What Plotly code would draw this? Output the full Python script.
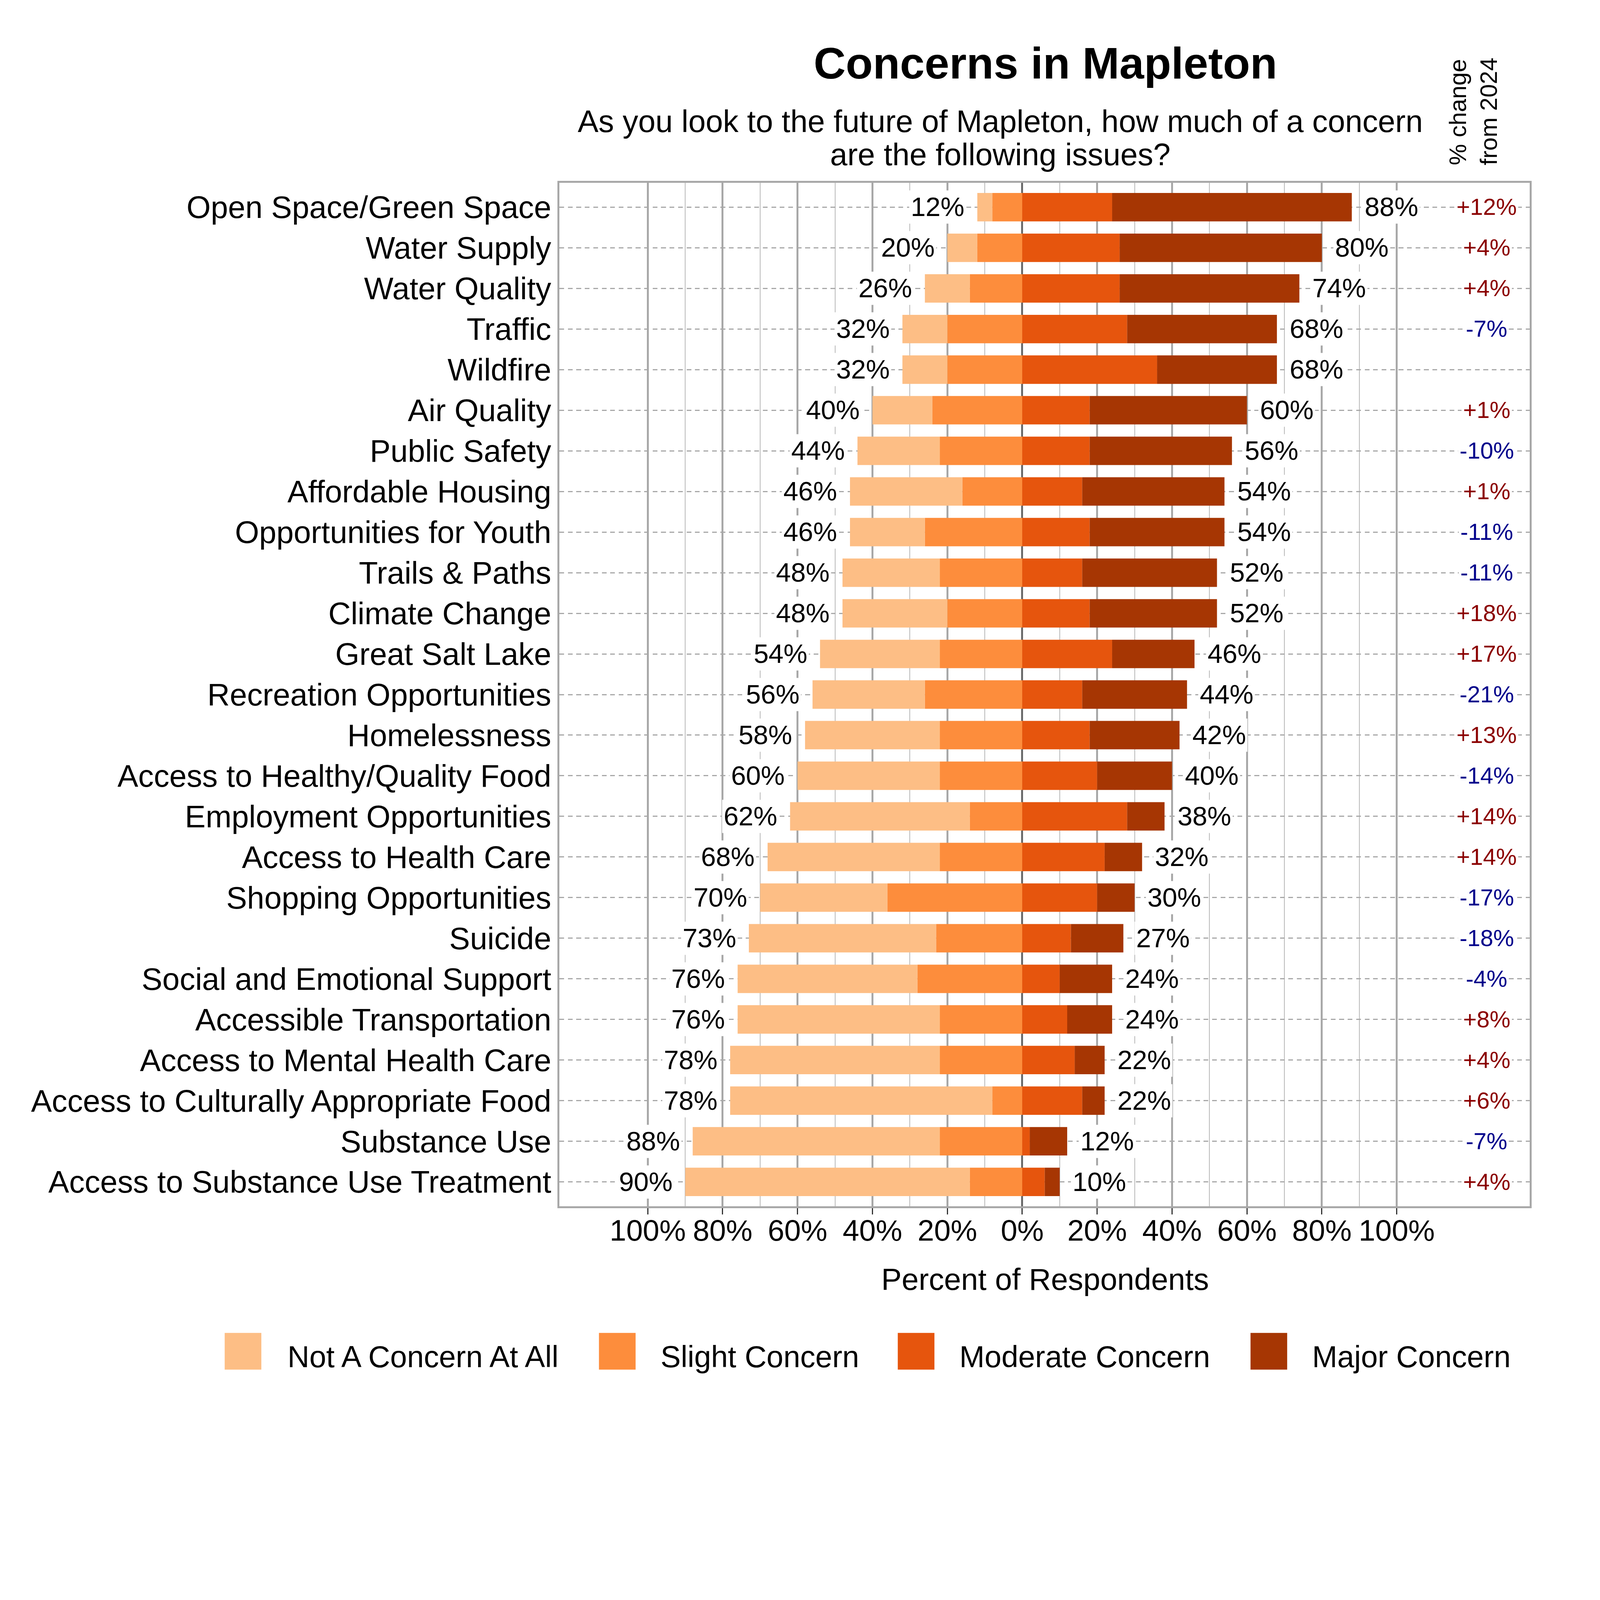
#!/usr/bin/env python3
#
# Usage: ./plot.py
# Diverging bar chart of resident concerns, written to out.html.
# The browser window turns out to be 4096 x 4096, so the 6000 x 5400 layout is
# measured in reference pixels and scaled down by K to fit.

import plotly.graph_objects as go


ISSUES = ['Open Space/Green Space', 'Water Supply', 'Water Quality', 'Traffic', 'Wildfire',
          'Air Quality', 'Public Safety', 'Affordable Housing', 'Opportunities for Youth',
          'Trails & Paths', 'Climate Change', 'Great Salt Lake', 'Recreation Opportunities',
          'Homelessness', 'Access to Healthy/Quality Food', 'Employment Opportunities',
          'Access to Health Care', 'Shopping Opportunities', 'Suicide',
          'Social and Emotional Support', 'Accessible Transportation',
          'Access to Mental Health Care', 'Access to Culturally Appropriate Food',
          'Substance Use', 'Access to Substance Use Treatment']
NOT_CONCERN = [4, 8, 12, 12, 12, 16, 22, 30, 20, 26, 28, 32, 30, 36, 38, 48, 46, 34, 50,
               48, 54, 56, 70, 66, 76]
SLIGHT = [8, 12, 14, 20, 20, 24, 22, 16, 26, 22, 20, 22, 26, 22, 22, 14, 22, 36, 23,
          28, 22, 22, 8, 22, 14]
MODERATE = [24, 26, 26, 28, 36, 18, 18, 16, 18, 16, 18, 24, 16, 18, 20, 28, 22, 20, 13,
            10, 12, 14, 16, 2, 6]
MAJOR = [64, 54, 48, 40, 32, 42, 38, 38, 36, 36, 34, 22, 28, 24, 20, 10, 10, 10, 14,
         14, 12, 8, 6, 10, 4]
CHANGE = [12, 4, 4, -7, None, 1, -10, 1, -11, -11, 18, 17, -21, 13, -14, 14, 14, -17, -18,
          -4, 8, 4, 6, -7, 4]
LEVELS = ['Not A Concern At All', 'Slight Concern', 'Moderate Concern', 'Major Concern']
X_TICKS = [-100, -80, -60, -40, -20, 0, 20, 40, 60, 80, 100]
X_MINOR = [-90, -70, -50, -30, -10, 10, 30, 50, 70, 90]

COLORS = ['#FDBE85', '#FD8D3C', '#E6550D', '#A63603']
FONT = 'Liberation Sans, Arial, sans-serif'
REF_W, REF_H = 6000, 5400
L, R, T, B = 2094, 253, 677, 870       # plot margins, reference px
K = 0.68                               # reference px -> page px


def s(v):
    return round(v * K, 1)


def main():
    fig = go.Figure()
    add_bars(fig)
    annotations = value_labels() + change_labels() + header_texts()
    shapes, legend_texts = legend()
    fig.update_layout(
        width=round(REF_W * K), height=round(REF_H * K),
        margin=dict(l=s(L), r=s(R), t=s(T), b=s(B), pad=0, autoexpand=False),
        barmode='relative', bargap=0.3,
        plot_bgcolor='white', paper_bgcolor='white',
        showlegend=False,
        font=dict(family=FONT, size=s(115), color='black'),
        annotations=annotations + legend_texts,
        shapes=shapes,
        xaxis=dict(
            range=[-123.6, 135.5],
            tickvals=X_TICKS, ticktext=[f'{abs(v)}%' for v in X_TICKS],
            tickfont=dict(size=s(112)),
            ticks='outside', ticklen=s(23), tickwidth=s(5), tickcolor='#333333',
            ticklabelstandoff=-24,
            showgrid=True, gridcolor='#A8A8A8', gridwidth=s(7),
            minor=dict(tickvals=X_MINOR, showgrid=True, gridcolor='#B8B8B8',
                       gridwidth=s(3), ticks=''),
            zeroline=True, zerolinecolor='#6A6A6A', zerolinewidth=s(7),
            showline=True, linecolor='#A8A8A8', linewidth=s(7), mirror=True,
        ),
        yaxis=dict(
            type='category', categoryorder='array', categoryarray=ISSUES,
            range=[len(ISSUES) - 0.4, -0.6],
            showgrid=True, gridcolor='#A8A8A8', gridwidth=s(4),
            griddash=f'{s(18)}px,{s(14)}px',
            ticks='', ticklabelstandoff=0, tickfont=dict(size=s(117)),
            showline=True, linecolor='#A8A8A8', linewidth=s(7), mirror=True,
        ),
    )
    fig.write_html('out.html')


def add_bars(fig):
    # negative side stacks outward from zero: slight first, then not-a-concern
    sides = [(SLIGHT, 1, -1), (NOT_CONCERN, 0, -1), (MODERATE, 2, 1), (MAJOR, 3, 1)]
    for values, i, sign in sides:
        fig.add_trace(go.Bar(
            y=ISSUES, x=[sign * v for v in values], orientation='h',
            name=LEVELS[i], marker=dict(color=COLORS[i], line=dict(width=0)),
            hoverinfo='skip'))


def value_labels():
    out = []
    for issue, n, sl, m, j in zip(ISSUES, NOT_CONCERN, SLIGHT, MODERATE, MAJOR):
        lo, hi = n + sl, m + j
        base = dict(y=issue, showarrow=False, bgcolor='white', borderpad=s(5),
                    font=dict(size=s(101)))
        out.append(dict(base, x=-lo, text=f'{lo}%', xanchor='right', xshift=-s(42)))
        out.append(dict(base, x=hi, text=f'{hi}%', xanchor='left', xshift=s(42)))
    return out


def change_labels():
    out = []
    for issue, c in zip(ISSUES, CHANGE):
        if c is None:
            continue
        out.append(dict(x=124, y=issue, text=f'{c:+d}%', xanchor='center', showarrow=False,
                        bgcolor='white', borderpad=s(5),
                        font=dict(size=s(88), color='#8B0000' if c > 0 else '#00008B')))
    return out


def px_x(x):
    return (x - L) / (REF_W - L - R)


def px_y(y):
    return (REF_H - B - y) / (REF_H - T - B)


def paper_text(x, y, text, size, **kw):
    d = dict(xref='paper', yref='paper', x=px_x(x), y=px_y(y), text=text,
             showarrow=False, font=dict(size=s(size)), xanchor='center', yanchor='middle')
    d.update(kw)
    return d


def header_texts():
    return [
        paper_text(3924, 226, '<b>Concerns in Mapleton</b>', 167),
        paper_text(3755, 445, 'As you look to the future of Mapleton, how much of a concern', 117),
        paper_text(3755, 571, 'are the following issues?', 117),
        paper_text(5535, 614, '% change<br>from 2024', 90, textangle=-90, yanchor='bottom',
                   align='left'),
        paper_text(3923, 4805, 'Percent of Respondents', 115),
    ]


def legend():
    swatch_x = [834, 2243, 3368, 4696]
    text_x = [1068, 2472, 3597, 4925]
    shapes, texts = [], []
    for i, name in enumerate(LEVELS):
        shapes.append(dict(type='rect', xref='paper', yref='paper',
                           x0=px_x(swatch_x[i]), x1=px_x(swatch_x[i] + 138),
                           y0=px_y(5145), y1=px_y(5007),
                           fillcolor=COLORS[i], line=dict(width=0)))
        texts.append(paper_text(text_x[i], 5096, name, 114, xanchor='left'))
    return shapes, texts


if __name__ == '__main__':
    main()
